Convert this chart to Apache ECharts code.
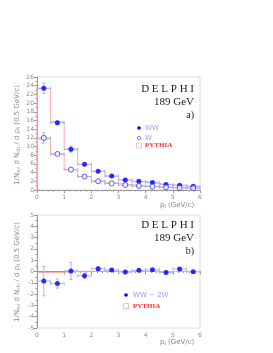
<!DOCTYPE html>
<html><head><meta charset="utf-8">
<script src="https://cdn.jsdelivr.net/npm/echarts@6/dist/echarts.min.js"></script>
<style>html,body{margin:0;padding:0;background:#fff}#c{width:273px;height:353px}</style>
</head><body><div id="c"></div>
<script>
const binCenters = [0.25,0.75,1.25,1.75,2.25,2.75,3.25,3.75,4.25,4.75,5.25,5.75];
const wwValues  = [23.4,15.5,9.4,5.9,4.3,3.2,2.3,2.0,1.7,1.25,1.1,0.85];
const wwErrors  = [1.2,0.35,0.7,0.3,0.2,0.2,0.15,0.15,0.12,0.1,0.1,0.1];
const wValues   = [12.0,8.3,4.7,3.1,2.0,1.5,1.15,0.95,0.8,0.65,0.5,0.45];
const wErrors   = [1.2,0.3,0.35,0.2,0.15,0.12,0.1,0.1,0.08,0.08,0.07,0.07];
const pythiaWW  = [23.4,15.7,9.4,5.9,4.3,3.2,2.4,1.9,1.5,1.2,1.0,0.8];
const pythiaW   = [11.7,8.2,4.7,3.1,2.1,1.6,1.2,0.95,0.75,0.6,0.5,0.4];
const diffValues = [-0.85,-1.07,0.05,-0.38,0.25,0.13,-0.05,0.1,0.15,-0.08,0.22,-0.03];
const diffErrors = [1.3,0.4,0.75,0.25,0.15,0.12,0.1,0.1,0.1,0.1,0.12,0.1];
const pythiaDiff = [-0.1,-0.08,0.02,0.02,0.03,0.02,0.01,0.02,0.01,0.0,0.01,0.0];
const xTicks = [0,1,2,3,4,5,6];
const halfBin = 0.25;

function errData(vals, errs){ return binCenters.map((x,i)=>[x, vals[i], errs[i]]); }
function stepData(vals, startZero){
  const pts = startZero ? [[0,0]] : [];
  vals.forEach((v,i)=>{ pts.push([binCenters[i]-halfBin, v]); pts.push([binCenters[i]+halfBin, v]); });
  return pts;
}
function errSeries(vals, errs, color, gi){
  return {type:'custom', xAxisIndex:gi, yAxisIndex:gi, z:3, silent:true,
    data: errData(vals, errs),
    renderItem: function(params, api){
      const x=api.value(0), y=api.value(1), e=api.value(2);
      const l=api.coord([x-halfBin,y]), r=api.coord([x+halfBin,y]);
      const t=api.coord([x,y+e]), b=api.coord([x,y-e]);
      const st={stroke:color, lineWidth:1};
      return {type:'group', children:[
        {type:'line', shape:{x1:l[0],y1:l[1],x2:r[0],y2:r[1]}, style:st},
        {type:'line', shape:{x1:l[0],y1:l[1]-1.5,x2:l[0],y2:l[1]+1.5}, style:st},
        {type:'line', shape:{x1:r[0],y1:r[1]-1.5,x2:r[0],y2:r[1]+1.5}, style:st},
        {type:'line', shape:{x1:t[0],y1:t[1],x2:b[0],y2:b[1]}, style:st},
        {type:'line', shape:{x1:t[0]-1.5,y1:t[1],x2:t[0]+1.5,y2:t[1]}, style:st},
        {type:'line', shape:{x1:b[0]-1.5,y1:b[1],x2:b[0]+1.5,y2:b[1]}, style:st}
      ]};
    }};
}
const axisGray = '#999';
const labelStyle = {fontSize:6, color:'#888', fontFamily:'DejaVu Sans'};
function xAx(gi){
  return {type:'value', gridIndex:gi, min:0, max:6, interval:1,
    axisLine:{lineStyle:{color:axisGray}}, axisTick:{show:true, inside:false, length:3, lineStyle:{color:axisGray}},
    minorTick:{show:true, splitNumber:5, length:1.5, lineStyle:{color:axisGray}},
    splitLine:{show:false}, axisLabel:Object.assign({margin:4, formatter:v=>xTicks.includes(v)?String(v):''}, labelStyle)};
}
function yAx(gi, min, max, interval){
  return {type:'value', gridIndex:gi, min:min, max:max, interval:interval,
    axisLine:{show:true, lineStyle:{color:axisGray}}, axisTick:{show:true, length:3, lineStyle:{color:axisGray}},
    minorTick:{show:true, splitNumber:2, length:1.5, lineStyle:{color:axisGray}},
    splitLine:{show:false}, axisLabel:Object.assign({margin:3}, labelStyle)};
}
const serif = 'Liberation Serif';
function txt(x,y,text,opts){
  return {type:'text', x:x, y:y, style:Object.assign({text:text, fontFamily:serif, fontSize:11, fill:'#222', textAlign:'right', textVerticalAlign:'middle'}, opts||{})};
}
const yTitle = '1/N{s|ev} d N{s|ch} / d p{s|t} (0.5 GeV/c)';
function yTitleGraphic(cy){
  return {type:'text', x:17, y:cy, rotation:Math.PI/2,
    style:{text:yTitle, fontFamily:'DejaVu Sans', fontSize:7, fill:'#888', textAlign:'center', textVerticalAlign:'middle',
      rich:{s:{fontSize:5, fill:'#888', fontFamily:'DejaVu Sans', padding:[4,0,0,0]}}}};
}
const chart = echarts.init(document.getElementById('c'), null, {renderer:'canvas'});
chart.setOption({
  animation:false,
  grid:[
    {left:37, right:73, top:77, height:113, show:true, borderColor:'#ddd', borderWidth:1},
    {left:37, right:73, top:215, height:113, show:true, borderColor:'#ddd', borderWidth:1}
  ],
  xAxis:[xAx(0), xAx(1)],
  yAxis:[yAx(0,0,26,2), yAx(1,-5,5,1)],
  series:[
    {type:'line', xAxisIndex:0, yAxisIndex:0, data:stepData(pythiaWW,true), symbol:'none', lineStyle:{color:'#ffaaaa', width:1}, z:2},
    {type:'line', xAxisIndex:0, yAxisIndex:0, data:stepData(pythiaW,true), symbol:'none', lineStyle:{color:'#ffaaaa', width:1}, z:2},
    errSeries(wwValues, wwErrors, '#a9b4ff', 0),
    errSeries(wValues, wErrors, '#b9a8e8', 0),
    {type:'scatter', xAxisIndex:0, yAxisIndex:0, data:binCenters.map((x,i)=>[x,wwValues[i]]), symbol:'circle', symbolSize:5, itemStyle:{color:'#0000ff'}, z:5},
    {type:'scatter', xAxisIndex:0, yAxisIndex:0, data:binCenters.map((x,i)=>[x,wValues[i]]), symbol:'circle', symbolSize:5, itemStyle:{color:'#fff', borderColor:'#3333ff', borderWidth:1}, z:5},
    {type:'line', xAxisIndex:1, yAxisIndex:1, data:stepData(pythiaDiff,false), symbol:'none', lineStyle:{color:'#ffaaaa', width:1}, z:2},
    errSeries(diffValues, diffErrors, '#a9b4ff', 1),
    {type:'scatter', xAxisIndex:1, yAxisIndex:1, data:binCenters.map((x,i)=>[x,diffValues[i]]), symbol:'circle', symbolSize:5, itemStyle:{color:'#0000ff'}, z:5}
  ],
  graphic:[
    yTitleGraphic(135),
    yTitleGraphic(272),
    txt(194,89,'D E L P H I'),
    txt(194,102,'189 GeV'),
    txt(194,115,'a)',{fontSize:10}),
    {type:'circle', shape:{cx:139, cy:128, r:1.8}, style:{fill:'#0000ff'}},
    {type:'text', x:145, y:128, style:{text:'WW', fontFamily:'DejaVu Sans', fontSize:7, fill:'#9a9aff', textVerticalAlign:'middle'}},
    {type:'circle', shape:{cx:139, cy:138, r:1.6}, style:{fill:'#fff', stroke:'#6666ff', lineWidth:0.8}},
    {type:'text', x:145, y:138, style:{text:'W', fontFamily:'DejaVu Sans', fontSize:7, fill:'#9a9aff', textVerticalAlign:'middle'}},
    {type:'rect', shape:{x:136.5, y:143, width:5, height:5}, style:{fill:'#fff', stroke:'#ffaaaa', lineWidth:0.8}},
    {type:'text', x:145, y:145.5, style:{text:'PYTHIA', fontFamily:serif, fontWeight:'bold', fontSize:7, fill:'#ff3333', textVerticalAlign:'middle'}},
    {type:'text', x:160, y:205, style:{text:'p{s|t} (GeV/c)', rich:{s:{fontSize:5,fill:'#888',padding:[3,0,0,0]}}, fontFamily:'DejaVu Sans', fontSize:7, fill:'#888', textVerticalAlign:'middle'}},
    txt(194,225,'D E L P H I'),
    txt(194,238,'189 GeV'),
    txt(194,251,'b)',{fontSize:10}),
    {type:'circle', shape:{cx:126, cy:295, r:1.8}, style:{fill:'#0000ff'}},
    {type:'text', x:133, y:295, style:{text:'WW − 2W', fontFamily:'DejaVu Sans', fontSize:7, fill:'#9a9aff', textVerticalAlign:'middle'}},
    {type:'rect', shape:{x:123.5, y:303.5, width:5, height:5}, style:{fill:'#fff', stroke:'#ffaaaa', lineWidth:0.8}},
    {type:'text', x:133, y:306, style:{text:'PYTHIA', fontFamily:serif, fontWeight:'bold', fontSize:7, fill:'#ff3333', textVerticalAlign:'middle'}},
    {type:'text', x:160, y:342, style:{text:'p{s|t} (GeV/c)', rich:{s:{fontSize:5,fill:'#888',padding:[3,0,0,0]}}, fontFamily:'DejaVu Sans', fontSize:7, fill:'#888', textVerticalAlign:'middle'}}
  ]
});
</script></body></html>
